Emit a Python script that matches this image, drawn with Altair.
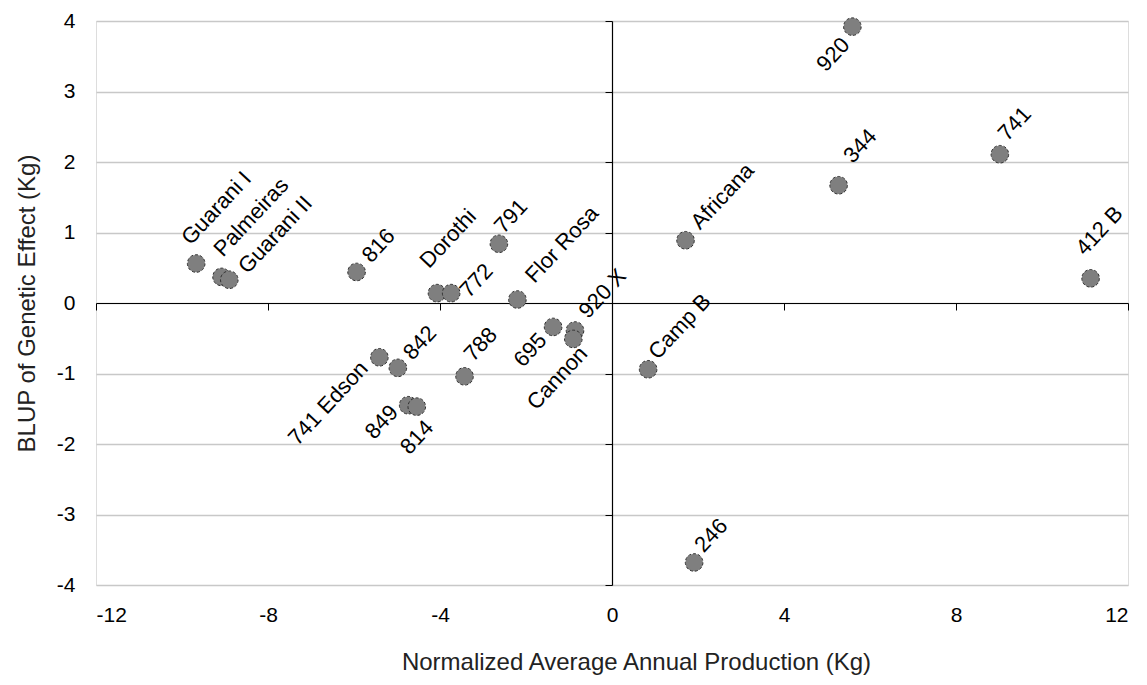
import altair as alt
import pandas as pd

# ---- data ----
names = ["Guarani I", "Palmeiras", "Guarani II", "816", "Dorothi", "772", "791",
         "Flor Rosa", "695", "920 X", "Cannon", "Camp B", "Africana", "344", "741",
         "412 B", "920", "246", "741 Edson", "842", "849", "814", "788"]
production = [-9.67, -9.08, -8.90, -5.94, -4.07, -3.74, -2.63,
              -2.20, -1.37, -0.86, -0.90, 0.84, 1.71, 5.27, 9.02,
              11.13, 5.59, 1.91, -5.41, -4.98, -4.74, -4.54, -3.43]
blup = [0.56, 0.37, 0.33, 0.44, 0.14, 0.14, 0.84,
        0.05, -0.34, -0.39, -0.51, -0.94, 0.89, 1.67, 2.11,
        0.35, 3.92, -3.68, -0.77, -0.92, -1.45, -1.47, -1.04]
x_ticks = [-12, -8, -4, 0, 4, 8, 12]
y_ticks = [-4, -3, -2, -1, 0, 1, 2, 3, 4]

# label placement (style): align, dx, dy in the rotated text frame
label_style = {
    "Guarani I": ("left", 9, -23), "Palmeiras": ("left", 15, -19),
    "Guarani II": ("left", 16, 3), "816": ("left", 16, -2),
    "Dorothi": ("left", 12, -29), "772": ("left", 8, 10),
    "791": ("left", 10, -10), "Flor Rosa": ("left", 23, -5),
    "695": ("right", -14, -1), "920 X": ("left", 17, -5),
    "Cannon": ("right", -1, 15), "Camp B": ("left", 13, -6),
    "Africana": ("left", 17, -3), "344": ("left", 25, -11),
    "741": ("left", 14, -10), "412 B": ("left", 12, -26),
    "920": ("right", -15, 5), "246": ("left", 13, -6),
    "741 Edson": ("right", -16, -6), "842": ("left", 15, -1),
    "849": ("right", -12, -8), "814": ("right", -4, 21),
    "788": ("left", 16, -10),
}

df = pd.DataFrame({"name": names, "x": production, "y": blup})

W, H = 1032, 564
FONT = "Liberation Sans"

xscale = alt.Scale(domain=[-12, 12], nice=False, zero=False)
yscale = alt.Scale(domain=[-4, 4], nice=False, zero=False)

base = alt.Chart(df)

points = base.mark_circle(
    size=310, fill="#7f7f7f", stroke="#303030", strokeWidth=1,
    strokeDash=[3, 2], opacity=1, fillOpacity=1
).encode(
    x=alt.X("x:Q", scale=xscale,
            axis=alt.Axis(values=x_ticks, offset=-H / 2, tickSize=7,
                          tickColor="black", domainColor="black",
                          domainWidth=1.2, labelPadding=294,
                          labelExpr="'' + datum.value",
                          labelFontSize=21, labelColor="black",
                          labelFont=FONT, grid=False,
                          title="Normalized Average Annual Production (Kg)",
                          titleFontSize=24, titleFont=FONT,
                          titleFontWeight="normal", titleColor="#222",
                          titleX=540, titleY=347, titleBaseline="top",
                          titleAlign="center"),
            ),
    y=alt.Y("y:Q", scale=yscale,
            axis=alt.Axis(values=y_ticks, offset=-W / 2, tickSize=7,
                          tickColor="black", domainColor="black",
                          domainWidth=1.2, labelPadding=530,
                          labelExpr="'' + datum.value",
                          labelFontSize=21, labelColor="black",
                          labelFont=FONT, grid=True, gridColor="#c8c8c8",
                          gridWidth=1.5,
                          title="BLUP of Genetic Effect (Kg)",
                          titleFontSize=24, titleFont=FONT,
                          titleFontWeight="normal", titleColor="#222",
                          titleX=-573, titleY=282, titleAngle=270,
                          titleBaseline="bottom", titleAlign="center"),
            ),
)

layers = [points]
for n in names:
    align, dx, dy = label_style[n]
    layers.append(
        base.transform_filter(alt.datum.name == n).mark_text(
            angle=313, align=align, baseline="middle", dx=dx, dy=dy,
            fontSize=22, font=FONT, color="black"
        ).encode(x=alt.X("x:Q", scale=xscale),
                 y=alt.Y("y:Q", scale=yscale),
                 text="name:N")
    )

chart = alt.layer(*layers).properties(
    width=W, height=H,
    autosize=alt.AutoSizeParams(type="none"),
    padding={"left": 88, "top": 13, "right": 11, "bottom": 92},
).configure_view(
    stroke="#8c8c8c", strokeWidth=1.5
).configure(background="white")

chart.save("out.html", embed_options={"renderer": "svg", "actions": False})
